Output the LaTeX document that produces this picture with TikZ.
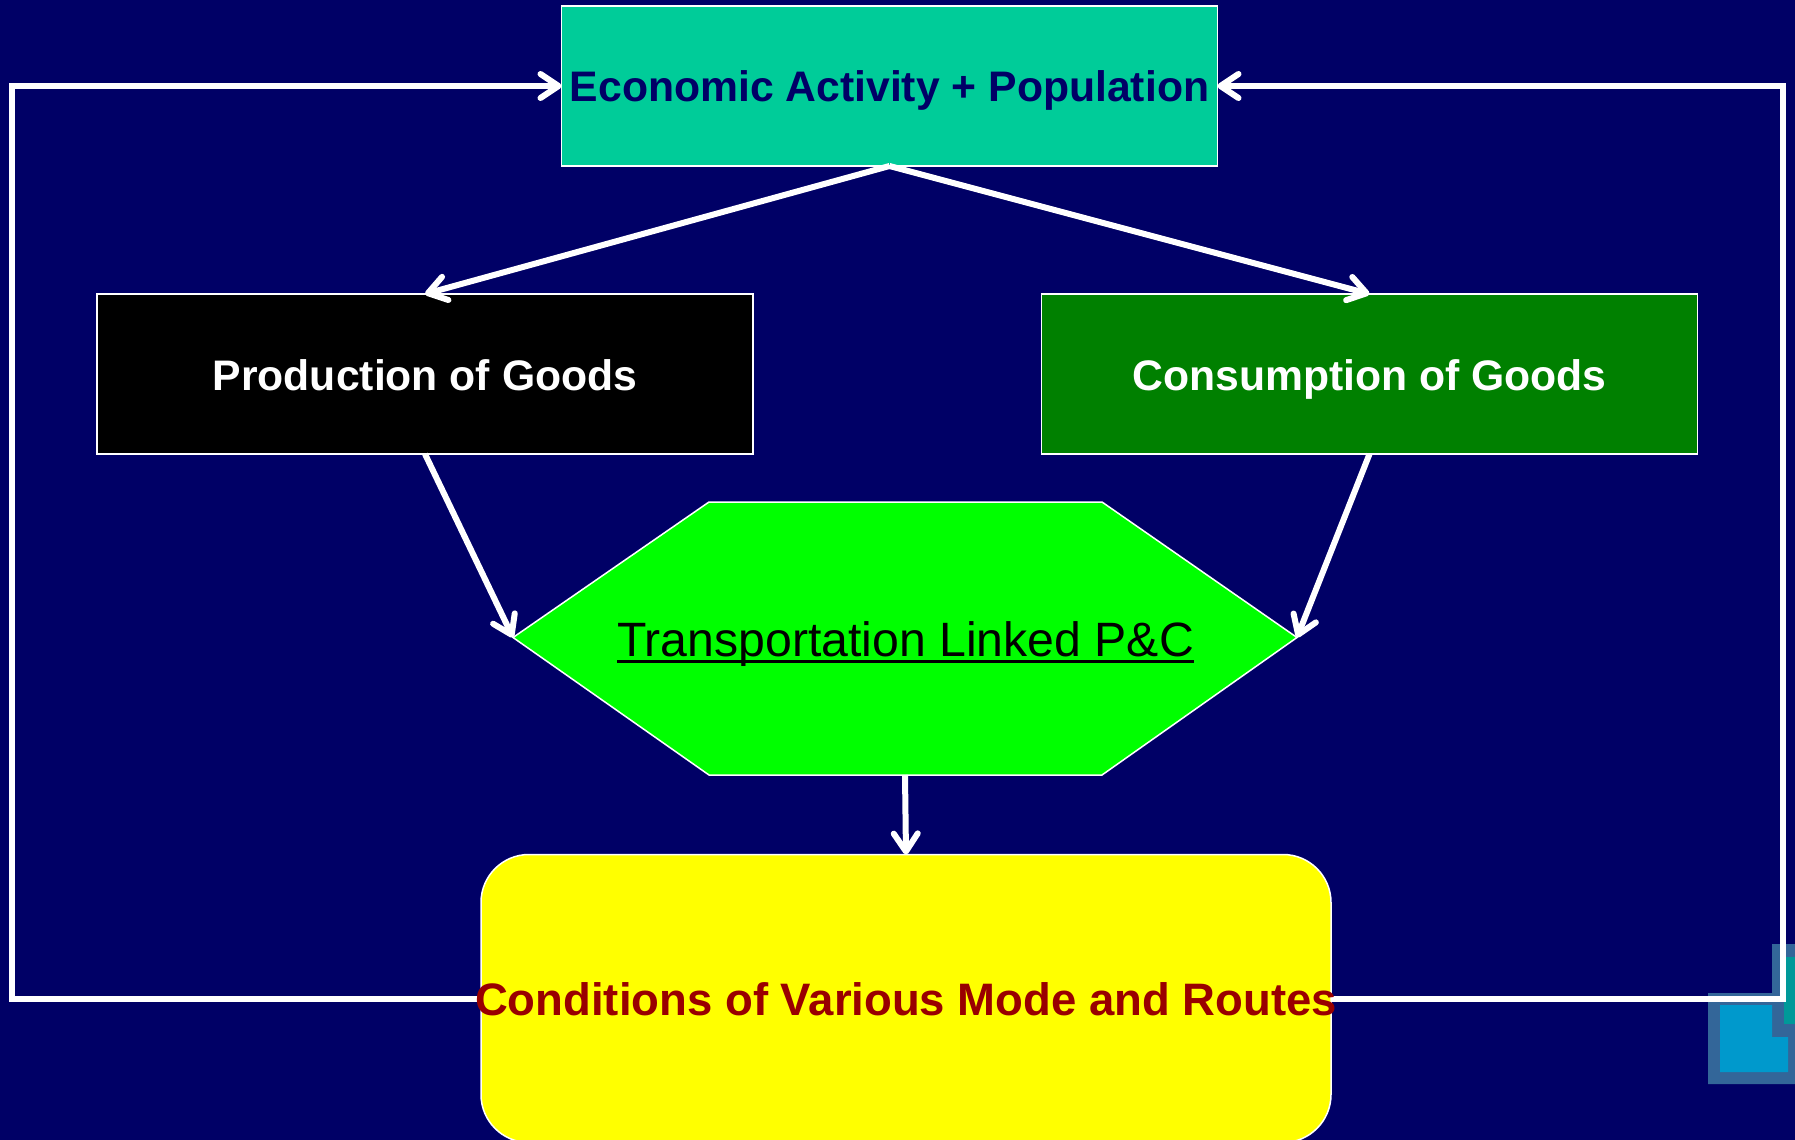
\documentclass[tikz,border=0pt]{standalone}
\usepackage{fontspec}
\setmainfont{Liberation Sans}
\usetikzlibrary{arrows.meta,backgrounds}
\definecolor{navy}{HTML}{000066}
\definecolor{teal1}{HTML}{00CC99}
\definecolor{dkgreen}{HTML}{008000}
\definecolor{hexgreen}{HTML}{00FF00}
\definecolor{boxyellow}{HTML}{FFFF00}
\definecolor{crim}{HTML}{990000}
\definecolor{decoedge}{HTML}{336699}
\definecolor{decoblue}{HTML}{0099CC}
\definecolor{decoteal}{HTML}{009999}
\newcommand{\ulbox}[1]{\setbox0\hbox{#1}\rlap{\rule[-3.6pt]{\wd0}{1.5pt}}\box0}
\tikzset{
  x=0.5pt,y=-0.5pt,
  card/.style={draw=white,line width=0.75pt,inner sep=0pt,outer sep=0pt,
    minimum width=328pt,text height=47.5pt,text depth=32.5pt,align=center,
    font=\fontsize{21.35}{25}\selectfont\bfseries},
  flow/.style={draw=white,line width=3pt,-{Straight Barb[length=9pt,width=12pt,round]}},
  loopline/.style={draw=white,line width=3pt,line join=miter}
}
\begin{document}
\begin{tikzpicture}
\useasboundingbox (0,0) rectangle (1795,1140);
\clip (0,0) rectangle (1795,1140);
% boxes
\node[card,fill=teal1,text=navy] (eco) at (889.5,86) {\makebox[0pt]{Economic Activity + Population}};
\node[card,fill=black,text=white,text height=48pt,text depth=32pt] (prod) at (425,374) {Production of Goods};
\node[card,fill=dkgreen,text=white,text height=48pt,text depth=32pt] (cons) at (1369.5,374) {Consumption of Goods};
% hexagon
\coordinate (hexA) at (709,502);
\coordinate (hexB) at (1102,502);
\coordinate (hexR) at (1297,637.5);
\coordinate (hexC) at (1102,775);
\coordinate (hexD) at (709,775);
\coordinate (hexL) at (513,637.5);
\coordinate (hexS) at (905,775);
\draw[white,fill=hexgreen,line width=0.75pt] (hexA) -- (hexB) -- (hexR) -- (hexC) -- (hexD) -- (hexL) -- cycle;
\node[anchor=base,inner sep=0pt,font=\fontsize{24.1}{28}\selectfont,text=black] (trans) at (905.5,656) {\ulbox{Transportation Linked P\&C}};
% rounded box
\node[card,fill=boxyellow,text=crim,rounded corners=24pt,minimum width=425pt,text height=80.5pt,text depth=63.5pt,font=\fontsize{22.75}{27}\selectfont\bfseries] (cond) at (906,998.5) {\makebox[0pt]{Conditions of Various Mode and Routes}};
% background layer: page, logo, feedback loop
\begin{pgfonlayer}{background}
\fill[navy] (0,0) rectangle (1795,1140);
\fill[decoedge] (1708,993) -- (1772,993) -- (1772,944) -- (1795,944) -- (1795,1084) -- (1708,1084) -- cycle;
\fill[decoblue] (1720,1005) -- (1772,1005) -- (1772,1037) -- (1788,1037) -- (1788,1072) -- (1720,1072) -- cycle;
\fill[decoteal] (1784,957) rectangle (1795,1024);
\coordinate (lx) at (12,0);
\coordinate (rx) at (1783,0);
\draw[loopline,flow] (cond.west) -| (lx |- eco.west) -- (eco.west);
\draw[loopline,flow] (cond.east) -| (rx |- eco.east) -- (eco.east);
\end{pgfonlayer}
% arrows
\draw[flow] (eco.south) -- (prod.north);
\draw[flow] (eco.south) -- (cons.north);
\draw[flow] (prod.south) -- (hexL);
\draw[flow] (cons.south) -- (hexR);
\draw[flow] (hexS) -- (cond.north);
\end{tikzpicture}
\end{document}
